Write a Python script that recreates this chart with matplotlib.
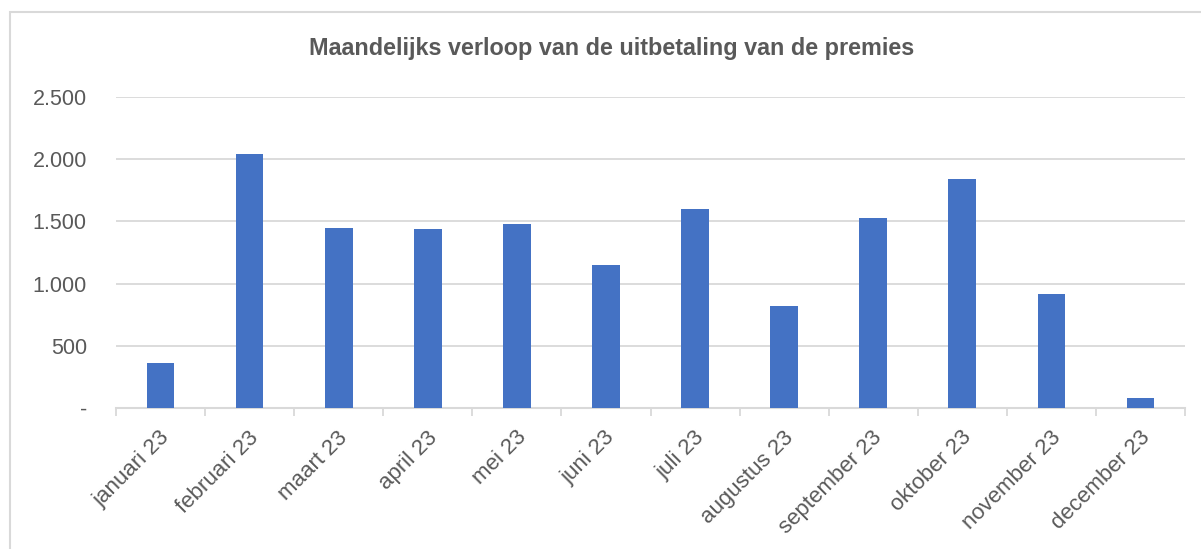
import matplotlib.pyplot as plt
from matplotlib.patches import Rectangle
from matplotlib.ticker import FuncFormatter
from matplotlib.transforms import ScaledTranslation
import numpy as np

plt.rcParams['font.family'] = ['Liberation Sans', 'DejaVu Sans']

# Data
maanden = ['januari 23', 'februari 23', 'maart 23', 'april 23', 'mei 23', 'juni 23',
           'juli 23', 'augustus 23', 'september 23', 'oktober 23', 'november 23', 'december 23']
premies = [360, 2040, 1449, 1437, 1477, 1151, 1601, 822, 1531, 1842, 915, 84]
titel = 'Maandelijks verloop van de uitbetaling van de premies'

grijs = '#595959'
lijn = '#D9D9D9'

fig = plt.figure(figsize=(12.01, 5.49), dpi=100)
ax = fig.add_axes([116 / 1201, 141 / 549, (1185 - 116) / 1201, 311 / 549])

x = np.arange(len(maanden))
ax.bar(x, premies, width=0.31, color='#4472C4', zorder=3)

ax.set_xlim(-0.5, len(maanden) - 0.5)
ax.set_ylim(0, 2500)
ax.set_yticks([0, 500, 1000, 1500, 2000, 2500])

def fmt(v, pos):
    if v == 0:
        return '-'
    return f'{int(v):,}'.replace(',', '.')

ax.yaxis.set_major_formatter(FuncFormatter(fmt))
ax.tick_params(axis='y', length=0, pad=21, labelsize=15.5, labelcolor=grijs)
ax.grid(axis='y', color=lijn, linewidth=1.3, zorder=0)

# category labels centred, tick marks on the boundaries
ax.set_xticks(x)
ax.set_xticklabels(maanden, rotation=45, ha='right', va='center', rotation_mode='anchor')
ax.tick_params(axis='x', length=0, pad=19, labelsize=16, labelcolor=grijs)
ax.set_xticks(np.arange(-0.5, len(maanden)), minor=True)
ax.tick_params(axis='x', which='minor', length=6, width=1.3, color=lijn)
shift = ScaledTranslation(6 / 100, 0, fig.dpi_scale_trans)
for lbl in ax.get_xticklabels():
    lbl.set_transform(lbl.get_transform() + shift)

for s in ['top', 'right', 'left']:
    ax.spines[s].set_visible(False)
ax.spines['bottom'].set_color(lijn)
ax.spines['bottom'].set_linewidth(1.5)

fig.text(612 / 1201, 1 - 48 / 549, titel, ha='center', va='center',
         fontsize=16.8, fontweight='bold', color=grijs)

# chart border
fig.patches.append(Rectangle((10 / 1201, -0.1), 1.1, 1.1 - 12 / 549, transform=fig.transFigure,
                             fill=False, edgecolor=lijn, linewidth=1.5))

fig.savefig('out.png', dpi=100)
